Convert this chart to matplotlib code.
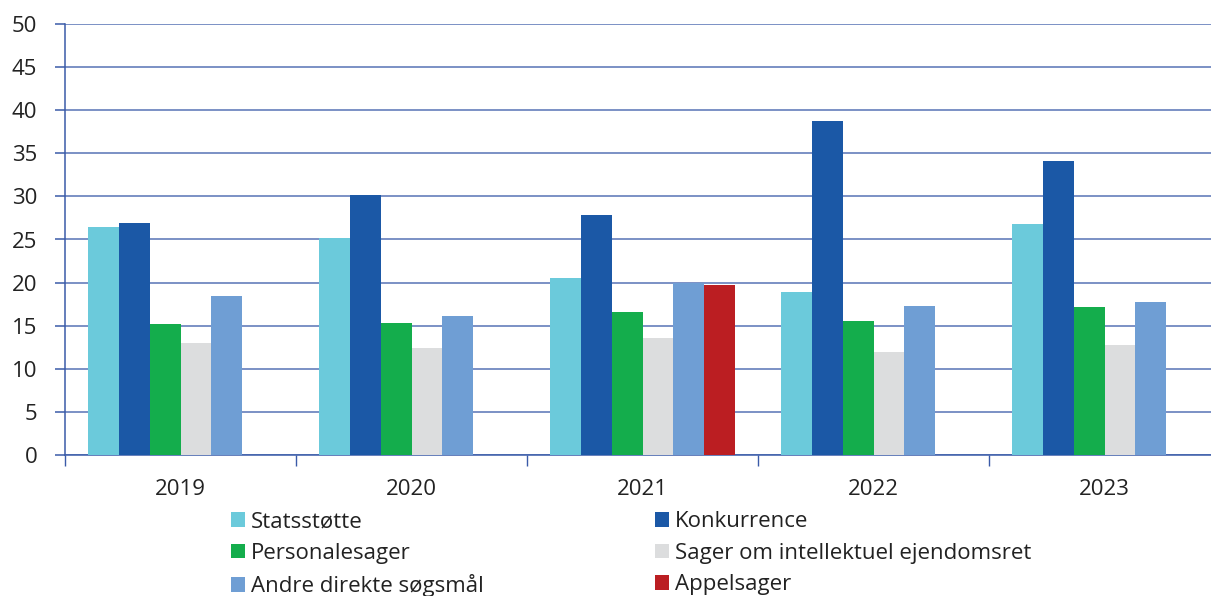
import numpy as np
import matplotlib.pyplot as plt
from matplotlib.patches import Patch

plt.rcParams['font.family'] = ['Open Sans', 'DejaVu Sans']

# Data
years = ['2019', '2020', '2021', '2022', '2023']
statsstotte = [26.4, 25.2, 20.5, 18.9, 26.8]
konkurrence = [26.9, 30.2, 27.8, 38.8, 34.1]
personalesager = [15.2, 15.3, 16.6, 15.5, 17.2]
intellektuel = [13.0, 12.4, 13.6, 11.9, 12.8]
andre = [18.4, 16.1, 20.0, 17.3, 17.7]
appelsager = [0, 0, 19.7, 0, 0]

series = [
    ('Statsstøtte', statsstotte, '#6BCADB'),
    ('Konkurrence', konkurrence, '#1B58A6'),
    ('Personalesager', personalesager, '#14AD4C'),
    ('Sager om intellektuel ejendomsret', intellektuel, '#DCDDDE'),
    ('Andre direkte søgsmål', andre, '#6F9ED4'),
    ('Appelsager', appelsager, '#BB1E22'),
]

grid_col = '#3A5BA8'
txt_col = '#222222'

fig = plt.figure(figsize=(12.11, 5.96), dpi=100)
ax = fig.add_axes([65 / 1211, 1 - 455 / 596, 1146 / 1211, 431 / 596])

x = np.arange(len(years))
w = 0.133
for i, (name, vals, col) in enumerate(series):
    ax.bar(x + (i - 2.5) * w, vals, width=w, color=col, zorder=3, linewidth=0)

ax.set_ylim(0, 50)
ax.set_yticks(range(0, 51, 5))
ax.yaxis.grid(True, color=grid_col, linewidth=1.1, alpha=0.85, zorder=0)
ax.set_axisbelow(True)

# year labels in the middle, tick marks at group boundaries
ax.set_xticks(x)
ax.set_xticklabels(years, fontsize=16, color=txt_col)
ax.tick_params(axis='x', length=0, pad=17)
ax.set_xticks(np.arange(-0.5, 5, 1), minor=True)
ax.tick_params(axis='x', which='minor', length=8, color=grid_col, width=1)
ax.tick_params(axis='y', length=7, color=grid_col, width=1.1,
               labelsize=16, labelcolor=txt_col, pad=13)
# last group is cut a little by the right edge
ax.set_xlim(-0.5, 4.5 - 9 / 231)

for s in ['top', 'right']:
    ax.spines[s].set_visible(False)
ax.spines['left'].set_color(grid_col)
ax.spines['bottom'].set_color(grid_col)
ax.spines['left'].set_linewidth(1.1)
ax.spines['bottom'].set_linewidth(1.1)

order = [0, 2, 4, 1, 3, 5]
handles = [Patch(facecolor=series[k][2], label=series[k][0]) for k in order]
fig.legend(handles=handles, ncol=2, loc='upper left',
           bbox_to_anchor=(231 / 1211, 1 - 511 / 596), frameon=False,
           fontsize=16, handlelength=0.64, handleheight=0.64,
           handletextpad=0.27, columnspacing=7.7, labelspacing=0.48,
           borderaxespad=0, borderpad=0, labelcolor=txt_col)

fig.savefig('out.png', dpi=100)
